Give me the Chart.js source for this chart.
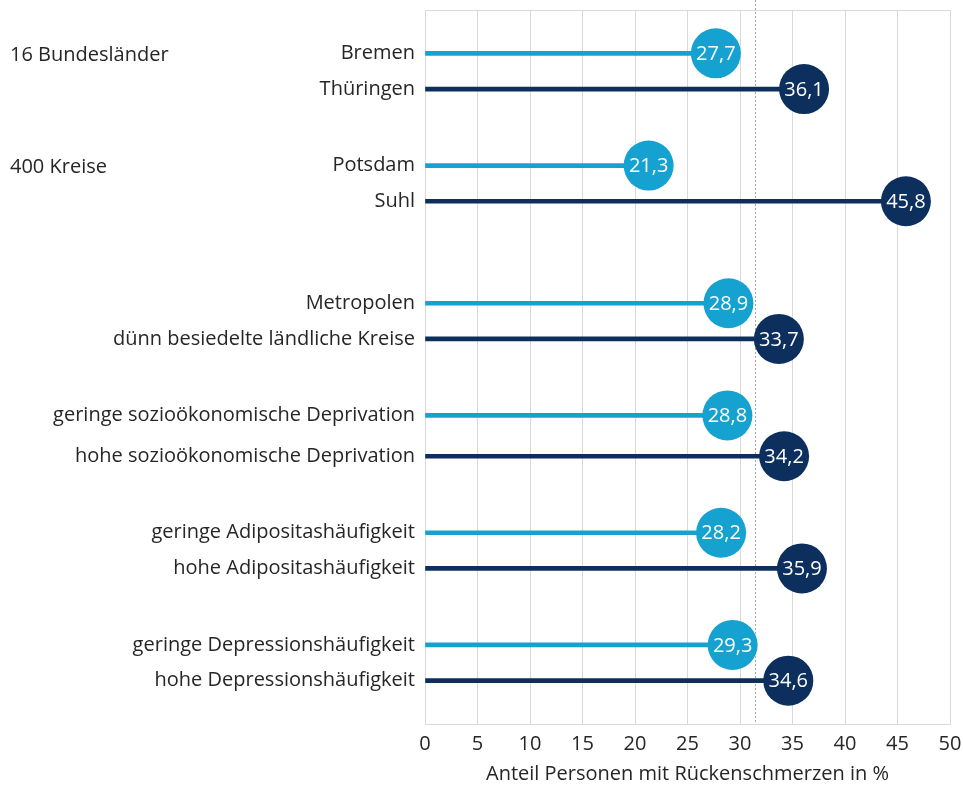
<!DOCTYPE html>
<html>
<head>
<meta charset="utf-8">
<script src="https://cdn.jsdelivr.net/npm/chart.js@4"></script>
<style>
  html, body { margin: 0; background: #fff; }
</style>
</head>
<body>
<canvas id="chart" width="963" height="786"></canvas>
<script>
const rowLabels = [
    'Bremen', 'Thüringen',
    'Potsdam', 'Suhl',
    'Metropolen', 'dünn besiedelte ländliche Kreise',
    'geringe sozioökonomische Deprivation', 'hohe sozioökonomische Deprivation',
    'geringe Adipositashäufigkeit', 'hohe Adipositashäufigkeit',
    'geringe Depressionshäufigkeit', 'hohe Depressionshäufigkeit'
];
const rowValues = [27.7, 36.1, 21.3, 45.8, 28.9, 33.7, 28.8, 34.2, 28.2, 35.9, 29.3, 34.6];
const groupTitles = ['16 Bundesländer', '400 Kreise'];
const groupTitleRows = ['Bremen', 'Potsdam'];
const averageValue = 31.4;
const xMin = 0, xMax = 50, xStep = 5;
const xTitle = 'Anteil Personen mit Rückenschmerzen in %';

// rows sit on a fine category grid so the uneven gaps between pairs come out right
const SLOT_COUNT = 140;
const rowSlots = [8, 15, 30, 37, 57, 64, 79, 87, 102, 109, 124, 131];

const LIGHT = '#16a2d0';
const DARK = '#0c2f5e';
const GRID = '#d9d9d9';
const TEXT = '#262626';
const FONT = '"Open Sans", Lato, sans-serif';
const SIZE = 20;

const slotLabels = Array(SLOT_COUNT).fill('');
const slotValues = Array(SLOT_COUNT).fill(null);
const slotColors = Array(SLOT_COUNT).fill(LIGHT);
rowSlots.forEach((s, i) => {
    slotLabels[s] = rowLabels[i];
    slotValues[s] = rowValues[i];
    slotColors[s] = i % 2 ? DARK : LIGHT;
});

const fmt = v => v.toFixed(1).replace('.', ',');

const backdrop = {
    id: 'backdrop',
    beforeDatasetsDraw(chart) {
        const { ctx, chartArea: a, scales: { x } } = chart;
        ctx.save();
        ctx.strokeStyle = GRID;
        ctx.lineWidth = 1;
        ctx.beginPath();
        ctx.moveTo(a.left, a.top + 0.5);
        ctx.lineTo(a.right, a.top + 0.5);
        ctx.stroke();
        // average line
        const px = Math.round(x.getPixelForValue(averageValue)) + 0.5;
        ctx.strokeStyle = '#a6a6a6';
        ctx.setLineDash([2, 2]);
        ctx.beginPath();
        ctx.moveTo(px, 0);
        ctx.lineTo(px, a.bottom);
        ctx.stroke();
        ctx.restore();
    }
};

const valueLabels = {
    id: 'valueLabels',
    afterDatasetsDraw(chart) {
        const { ctx } = chart;
        const meta = chart.getDatasetMeta(1);
        ctx.save();
        ctx.fillStyle = '#fff';
        ctx.font = SIZE + 'px ' + FONT;
        ctx.textAlign = 'center';
        ctx.textBaseline = 'middle';
        meta.data.forEach((pt, i) => {
            const v = slotValues[i];
            if (v === null) return;
            ctx.fillText(fmt(v), pt.x, pt.y + 1);
        });
        ctx.restore();
    }
};

const groupHeads = {
    id: 'groupHeads',
    afterDraw(chart) {
        const { ctx, scales: { y } } = chart;
        ctx.save();
        ctx.fillStyle = TEXT;
        ctx.font = SIZE + 'px ' + FONT;
        ctx.textAlign = 'left';
        ctx.textBaseline = 'middle';
        groupTitles.forEach((t, i) => {
            const slot = rowSlots[rowLabels.indexOf(groupTitleRows[i])];
            ctx.fillText(t, 10, y.getPixelForValue(slot) + 2);
        });
        ctx.restore();
    }
};

new Chart(document.getElementById('chart'), {
    data: {
        labels: slotLabels,
        datasets: [
            {
                type: 'bar',
                data: slotValues,
                backgroundColor: slotColors,
                barThickness: 4,
                grouped: false,
                order: 2
            },
            {
                type: 'line',
                data: slotValues,
                showLine: false,
                clip: false,
                pointRadius: 25,
                pointHoverRadius: 25,
                pointBorderWidth: 0,
                pointBackgroundColor: slotColors,
                order: 1
            }
        ]
    },
    options: {
        indexAxis: 'y',
        responsive: false,
        animation: false,
        layout: { autoPadding: false, padding: { top: 10, right: 13, bottom: 0, left: 0 } },
        plugins: { legend: { display: false }, tooltip: { enabled: false } },
        scales: {
            x: {
                type: 'linear',
                min: xMin,
                max: xMax,
                afterFit: s => { s.height = 62; s.paddingLeft = 0; s.paddingRight = 0; },
                grid: { color: GRID, drawTicks: false },
                border: { color: GRID },
                ticks: { stepSize: xStep, padding: 8, color: TEXT, font: { family: FONT, size: SIZE } },
                title: {
                    display: true,
                    text: xTitle,
                    color: TEXT,
                    padding: { top: 0, bottom: 0 },
                    font: { family: FONT, size: SIZE }
                }
            },
            y: {
                type: 'category',
                afterFit: s => { s.width = 425; s.paddingTop = 0; s.paddingBottom = 0; },
                grid: { display: false, drawTicks: false },
                border: { color: GRID },
                ticks: { autoSkip: false, padding: 10, color: TEXT, font: { family: FONT, size: SIZE } }
            }
        }
    },
    plugins: [backdrop, valueLabels, groupHeads]
});
</script>
</body>
</html>
